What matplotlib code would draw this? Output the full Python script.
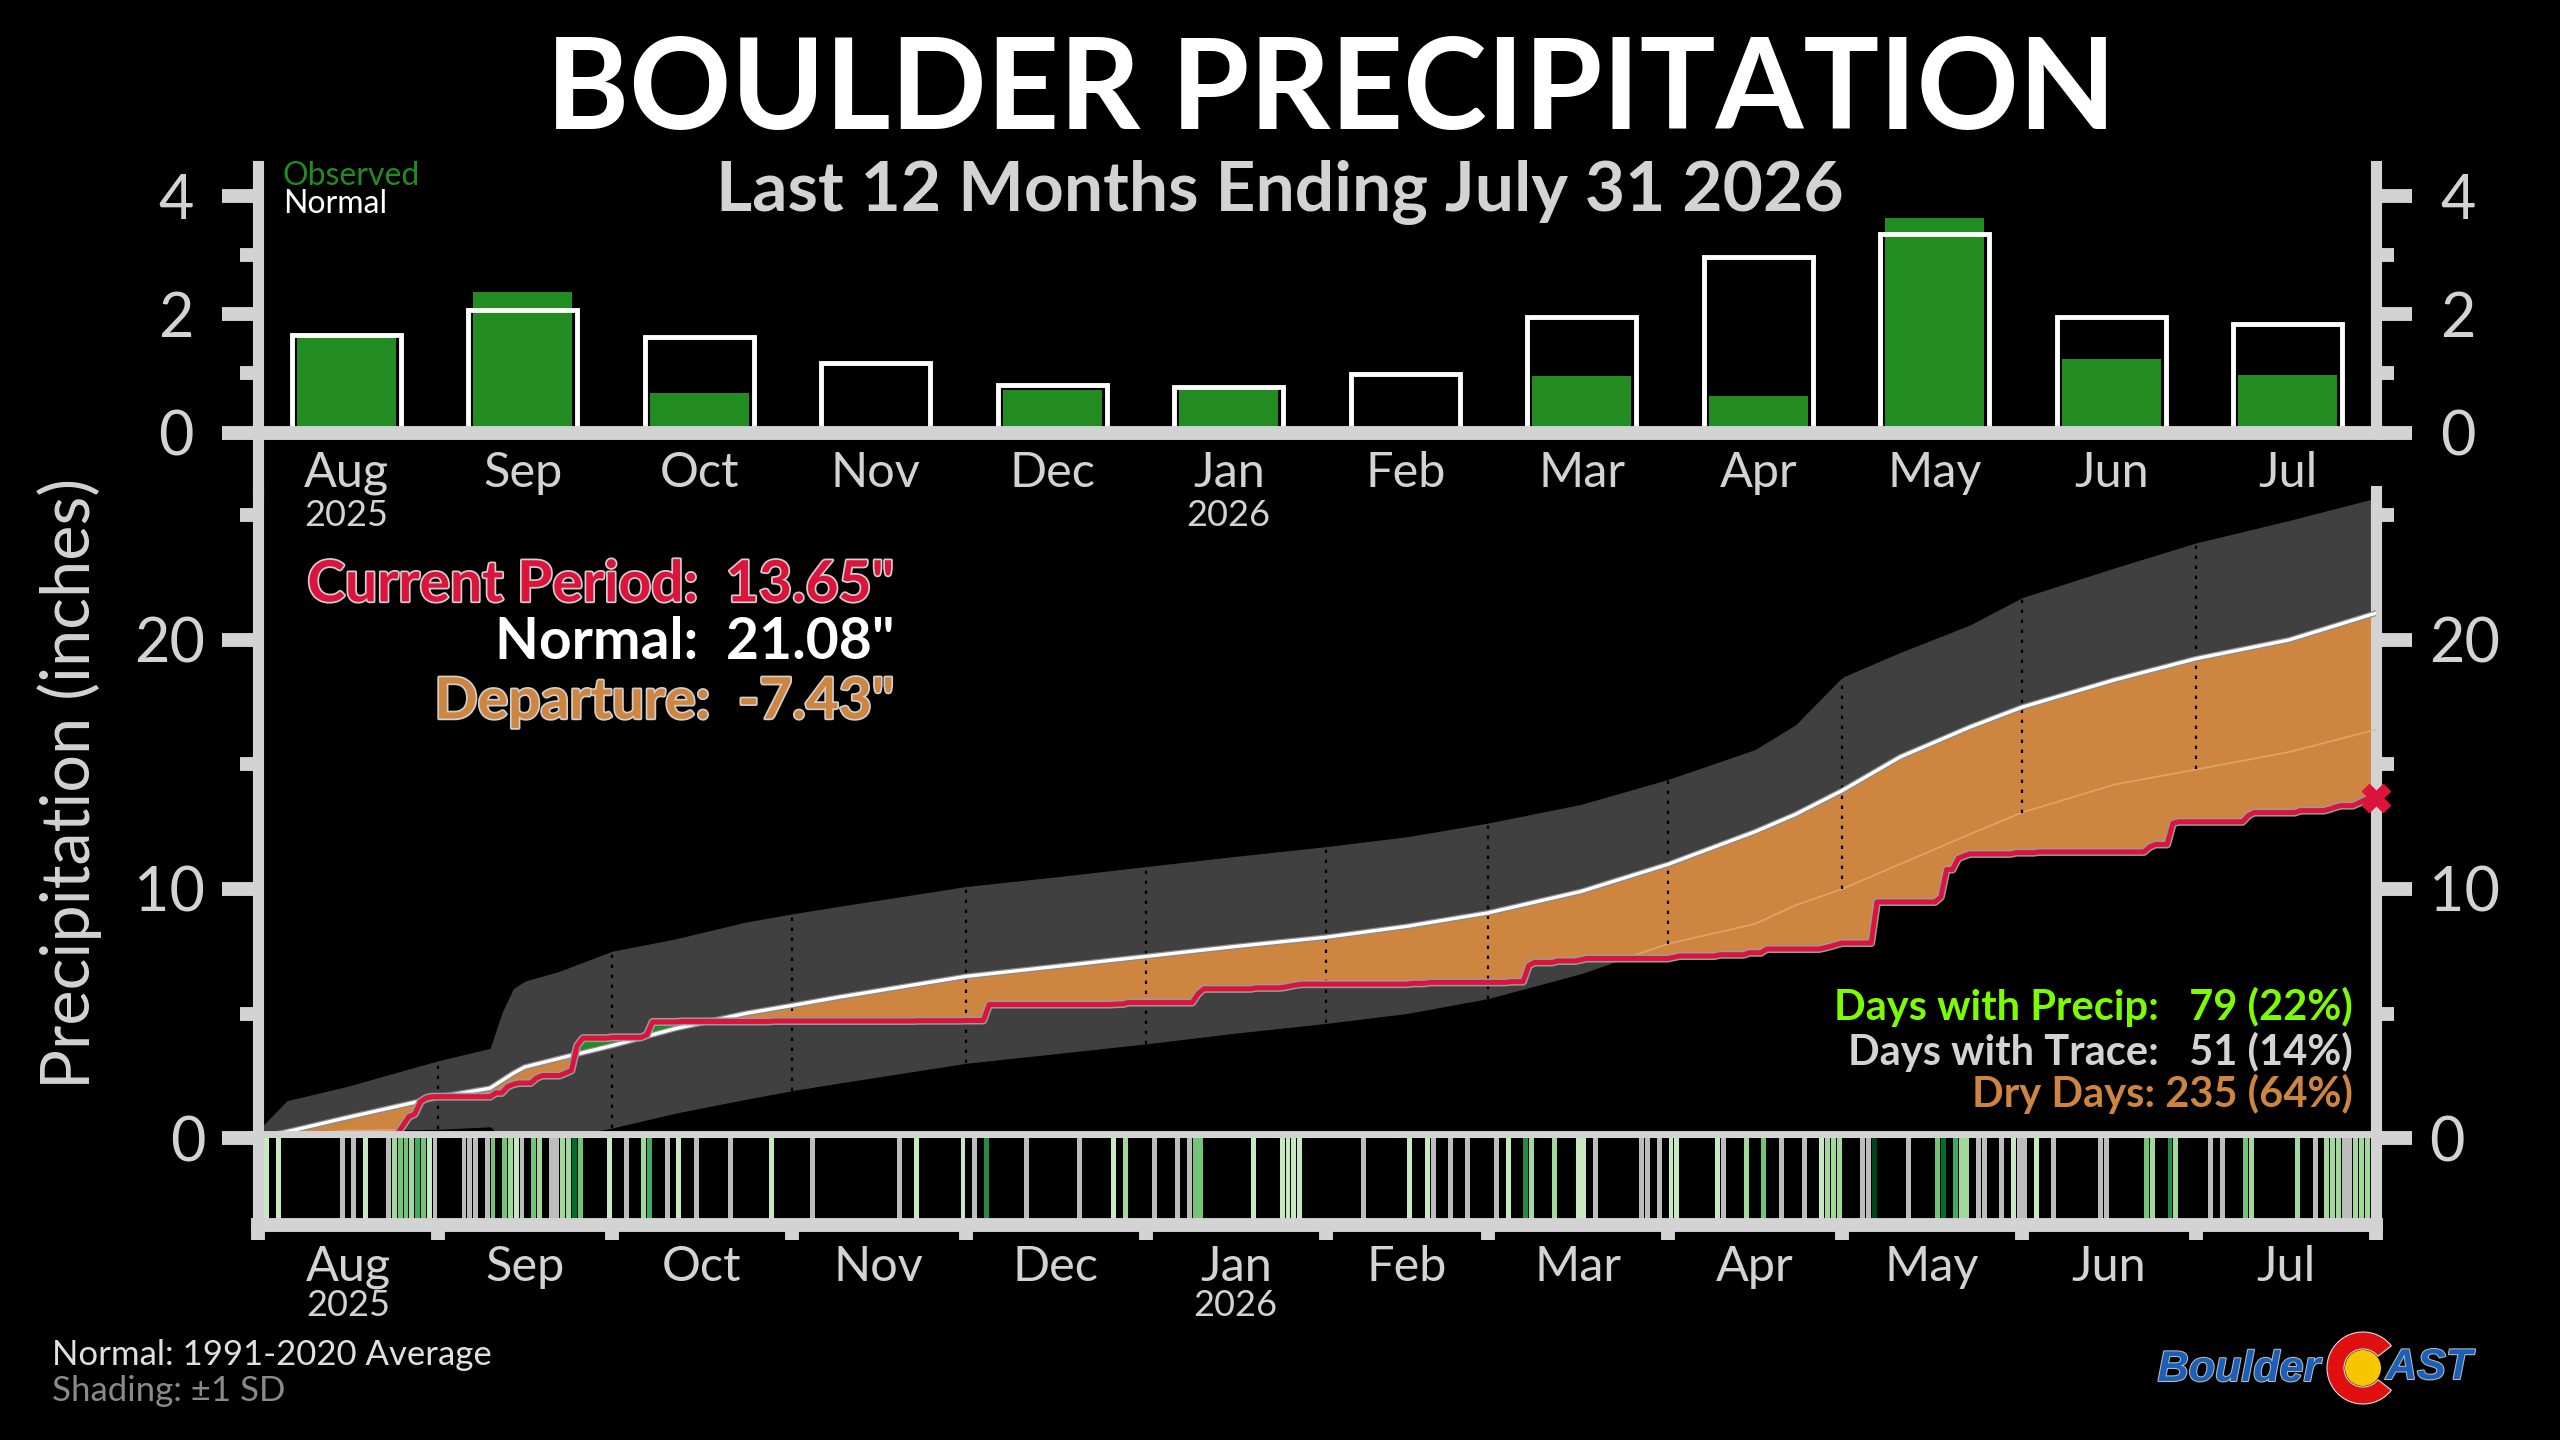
import numpy as np
import matplotlib
matplotlib.use('Agg')
import matplotlib.pyplot as plt
import matplotlib.patheffects as pe
import matplotlib.transforms as mtransforms
from matplotlib.patches import Polygon, Wedge, Circle
from matplotlib.colors import ListedColormap, BoundaryNorm

plt.rcParams['font.family'] = ['Lato', 'DejaVu Sans']

# ---------------- data ----------------
months = ['Aug', 'Sep', 'Oct', 'Nov', 'Dec', 'Jan', 'Feb', 'Mar', 'Apr', 'May', 'Jun', 'Jul']
month_start = [0, 31, 61, 92, 122, 153, 184, 212, 243, 273, 304, 334, 365]
normal_monthly = [1.64, 2.07, 1.61, 1.17, 0.80, 0.77, 0.98, 1.95, 2.96, 3.35, 1.95, 1.83]

# daily precipitation events (day index 0 = Aug 1 2025)
precip_day = [1, 3, 18, 23, 24, 25, 26, 27, 28, 29,
              40, 42, 43, 44, 47, 48, 52, 53, 54, 55, 60,
              66, 67, 72, 88,
              113, 121,
              125, 147, 149,
              161, 162, 171, 176, 177, 178, 179,
              198, 201,
              215, 218, 219, 223, 227, 228,
              243, 244, 251, 256, 259, 269, 270, 271, 272,
              278, 289, 290, 292, 293, 294, 302,
              306, 325, 326, 329, 330,
              342, 343, 351, 356, 357, 358, 361, 362, 363]
precip_amt = [0.02, 0.02, 0.02, 0.10, 0.35, 0.35, 0.10, 0.50, 0.15, 0.05,
              0.15, 0.25, 0.10, 0.05, 0.20, 0.10, 0.10, 0.10, 1.00, 0.30, 0.03,
              0.10, 0.52, 0.02, 0.02,
              0.01, 0.01,
              0.64, 0.02, 0.06,
              0.35, 0.20, 0.04, 0.03, 0.05, 0.04, 0.03,
              0.03, 0.04,
              0.03, 0.65, 0.12, 0.06, 0.05, 0.05,
              0.05, 0.05, 0.05, 0.08, 0.15, 0.05, 0.06, 0.07, 0.06,
              1.65, 0.20, 1.10, 0.45, 0.10, 0.08, 0.05,
              0.03, 0.20, 0.10, 0.85, 0.06,
              0.25, 0.12, 0.08, 0.06, 0.08, 0.06, 0.10, 0.12, 0.10]
trace_day = [14, 16, 22, 30, 35, 36, 37, 39, 45, 50, 51, 63, 70, 75, 81, 95, 110,
             123, 132, 141, 154, 158, 160, 190, 202, 205, 208, 213, 230, 238, 239, 241,
             252, 262, 266, 276, 277, 284, 296, 297, 300, 303, 304, 309, 317, 318,
             336, 338, 354, 359, 360]

# normal cumulative and +/- 1 SD envelope (read at nodes)
band_day = [0, 5, 15, 31, 40, 42, 44, 46, 52, 61, 72, 84, 92, 100, 122, 138, 153, 168, 184, 198,
            212, 228, 243, 258, 265, 273, 283, 295, 304, 320, 334, 350, 365]
normal_cum = [0, 0.25, 0.8, 1.64, 2.0, 2.3, 2.6, 2.85, 3.2, 3.71, 4.4, 5.0, 5.32, 5.65, 6.49, 6.9, 7.29, 7.68, 8.06, 8.5,
              9.04, 9.9, 10.99, 12.3, 13.0, 13.95, 15.3, 16.5, 17.30, 18.4, 19.25, 20.0, 21.08]
upper_sd = [0.3, 1.5, 2.05, 3.1, 3.6, 5.0, 6.0, 6.3, 6.7, 7.5, 8.0, 8.67, 9.0, 9.3, 10.1, 10.5, 10.9, 11.3, 11.7, 12.1,
            12.65, 13.4, 14.4, 15.6, 16.6, 18.5, 19.5, 20.6, 21.7, 22.9, 23.9, 24.8, 25.7]
lower_sd = [0, 0.05, 0.3, 0.35, 0.45, 0.05, 0.0, 0.0, 0.0, 0.4, 1.0, 1.55, 1.9, 2.2, 3.0, 3.4, 3.78, 4.2, 4.6, 5.0,
            5.6, 6.6, 7.8, 8.6, 9.35, 10.0, 11.0, 12.2, 13.07, 14.2, 14.8, 15.5, 16.4]

stat_lines = ['Days with Precip:   79 (22%)', 'Days with Trace:   51 (14%)', 'Dry Days: 235 (64%)']
summary_lines = ['Current Period:  13.65"', 'Normal:  21.08"', 'Departure:  -7.43"']

# ---------------- derived ----------------
ndays = 365
daily = np.zeros(ndays)
daily[precip_day] = precip_amt
x_obs = np.arange(0, ndays + 1)
obs = np.concatenate([[0.0], np.cumsum(daily)])
obs_monthly = [daily[month_start[i]:month_start[i + 1]].sum() for i in range(12)]

LG = '#d3d3d3'
ORANGE = '#CD853F'
RED = '#DC143C'
GREEN = '#228B22'
SPW = 8
BW = 10
MONTH_FS = 35
YEAR_FS = 26

fig = plt.figure(figsize=(25.6, 14.4), dpi=100, facecolor='black')

L, W = 258 / 2560, 2118 / 2560

# ---------------- top bar axes ----------------
ax_t = fig.add_axes([L, 1 - 432.5 / 1440, W, 266.4 / 1440])
ax_t.set_facecolor('none')
xm = np.arange(12)
ax_t.bar(xm, obs_monthly, width=0.56, color=GREEN, zorder=2)
ax_t.bar(xm, normal_monthly, width=0.62, facecolor='none', edgecolor='white', lw=3.5, zorder=3)
ax_t.set_xlim(-0.5, 11.5)
ax_t.set_ylim(0, 4.5)
ax_t.set_yticks([0, 2, 4])
ax_t.set_yticks([1, 3], minor=True)
ax_t.set_xticks(xm)
ax_t.set_xticklabels(months)
ax_t.tick_params(axis='x', length=0, pad=13, labelsize=MONTH_FS, labelcolor=LG)
ax_t.tick_params(axis='y', which='major', length=26, width=10, color=LG, labelcolor=LG,
                 labelsize=44, left=True, right=True, labelleft=True, labelright=True, pad=20)
ax_t.tick_params(axis='y', which='minor', length=13, width=10, color=LG, left=True, right=True)
for s in ['left', 'right']:
    ax_t.spines[s].set_color(LG)
    ax_t.spines[s].set_linewidth(SPW)
ax_t.spines['bottom'].set_color(LG)
ax_t.spines['bottom'].set_linewidth(BW)
ax_t.spines['bottom'].set_zorder(10)
ax_t.spines['top'].set_visible(False)

# ---------------- main cumulative axes ----------------
ax = fig.add_axes([L, 1 - 1138 / 1440, W, 26 * 24.9 / 1440])
ax.set_facecolor('none')
ax.set_xlim(0, 365)
ax.set_ylim(0, 26)
ax.fill_between(band_day, lower_sd, upper_sd, color='#404040', lw=0, zorder=1)

above_obs = Polygon(np.column_stack([np.r_[x_obs, 365, 0], np.r_[obs, 40, 40]]),
                    closed=True, transform=ax.transData)
below_obs = Polygon(np.column_stack([np.r_[x_obs, 365, 0], np.r_[obs, -5, -5]]),
                    closed=True, transform=ax.transData)
orange = ax.fill_between(band_day, -5, normal_cum, color=ORANGE, lw=0, zorder=2)
orange.set_clip_path(above_obs)
green = ax.fill_between(band_day, normal_cum, 40, color=GREEN, lw=0, zorder=2)
green.set_clip_path(below_obs)
lowline, = ax.plot(band_day, lower_sd, color='#e6b07a', lw=1.3, alpha=0.7, zorder=3)
lowline.set_clip_path(above_obs)

bd = np.array(band_day)
for m in month_start[1:-1]:
    i = int(np.where(bd == m)[0][0])
    ax.vlines(m, lower_sd[i], upper_sd[i], colors='black', linestyles=(0, (1.5, 3)), lw=1.6, zorder=4)

ax.plot(band_day, normal_cum, color='white', lw=2.4, zorder=5,
        path_effects=[pe.Stroke(linewidth=4.2, foreground='#8a8a8a'), pe.Normal()])
ax.plot(x_obs, obs, color=RED, lw=3.6, zorder=6,
        path_effects=[pe.Stroke(linewidth=5.8, foreground='#9a9a9a'), pe.Normal()])
ax.plot([365], [obs[-1]], marker='X', ms=20, color=RED, clip_on=False, zorder=7)

ax.set_yticks([0, 10, 20])
ax.set_yticks([5, 15, 25], minor=True)
ax.tick_params(axis='x', which='both', bottom=False, labelbottom=False)
ax.tick_params(axis='y', which='major', length=26, width=10, color=LG, labelcolor=LG,
               labelsize=44, left=True, right=True, labelleft=True, labelright=True, pad=12)
ax.tick_params(axis='y', which='minor', length=13, width=10, color=LG, left=True, right=True)
for s in ['left', 'right']:
    ax.spines[s].set_color(LG)
    ax.spines[s].set_linewidth(SPW)
ax.spines['bottom'].set_color(LG)
ax.spines['bottom'].set_linewidth(BW)
ax.spines['bottom'].set_zorder(10)
ax.spines['top'].set_visible(False)
ax.plot([0, 0], [0.99, 1.092], transform=ax.transAxes, clip_on=False, color=LG, lw=SPW,
        solid_capstyle='butt', zorder=10)

# year labels under the top bar chart (drawn on top of the main axes)
tr_t = mtransforms.blended_transform_factory(ax_t.transData, ax_t.transAxes)
for xi, yr in [(0, '2025'), (5, '2026')]:
    fig.text(0, 0, yr, transform=mtransforms.offset_copy(tr_t, fig=fig, x=0, y=0),
             ha='center', va='center', fontsize=YEAR_FS, color=LG, zorder=30).set_position((xi, -0.31))

# ---------------- daily strip ----------------
ax_s = fig.add_axes([L, 1 - 1224.5 / 1440, W, 87 / 1440])
ax_s.set_facecolor('black')
levels = [0, 0.06, 0.15, 0.4, 0.6, 0.9, 1.2, 10]
gcols = ['#c7e9c0', '#a1d99b', '#74c476', '#41ab5d', '#238b45', '#006d2c', '#00441b']
cmap = ListedColormap(gcols)
norm = BoundaryNorm(levels, cmap.N)
ax_s.bar(np.array(trace_day) + 0.5, 1, width=0.85, color='#bdbdbd', lw=0)
ax_s.bar(np.array(precip_day) + 0.5, 1, width=0.85, color=cmap(norm(precip_amt)), lw=0)
ax_s.set_xlim(0, 365)
ax_s.set_ylim(0, 1)
ax_s.set_yticks([])
ax_s.set_xticks(month_start)
ax_s.set_xticklabels([])
mid = [(month_start[i] + month_start[i + 1]) / 2 for i in range(12)]
ax_s.set_xticks(mid, minor=True)
ax_s.set_xticklabels(months, minor=True)
ax_s.tick_params(axis='x', which='major', length=11, width=10, color=LG, direction='out')
ax_s.tick_params(axis='x', which='minor', length=0, pad=15, labelsize=MONTH_FS, labelcolor=LG)
for s in ['left', 'right']:
    ax_s.spines[s].set_color(LG)
    ax_s.spines[s].set_linewidth(SPW)
ax_s.spines['bottom'].set_color(LG)
ax_s.spines['bottom'].set_linewidth(BW)
ax_s.spines['top'].set_visible(False)
tr_s = mtransforms.blended_transform_factory(ax_s.transData, ax_s.transAxes)
ax_s.text(mid[0], -0.93, '2025', transform=tr_s, ha='center', va='center', fontsize=YEAR_FS, color=LG)
ax_s.text(mid[5], -0.93, '2026', transform=tr_s, ha='center', va='center', fontsize=YEAR_FS, color=LG)

# ---------------- texts ----------------
fig.text(0.52, 0.936, 'BOULDER PRECIPITATION', ha='center', va='center', fontsize=91,
         fontweight='bold', color='white')
fig.text(0.5, 0.866, 'Last 12 Months Ending July 31 2026', ha='center', va='center', fontsize=50,
         fontweight='bold', color=LG)
fig.text(0.1105, 0.878, 'Observed', color=GREEN, fontsize=23, va='center', ha='left')
fig.text(0.1105, 0.858, 'Normal', color='white', fontsize=23, va='center', ha='left')
fig.text(0.027, 0.456, 'Precipitation (inches)', rotation=90, ha='center', va='center',
         fontsize=48, color=LG)

stroke = [pe.withStroke(linewidth=2.5, foreground='#cfcfcf')]
sum_cols = [RED, 'white', ORANGE]
sum_y = [0.5938, 0.5535, 0.5125]
for t, c, yy in zip(summary_lines, sum_cols, sum_y):
    fig.text(0.3496, yy, t, ha='right', va='center', fontsize=41, fontweight='bold', color=c,
             path_effects=stroke if c != 'white' else None, zorder=20)

stat_cols = ['#7CFC00', LG, ORANGE]
stat_y = [0.3007, 0.2697, 0.2403]
for t, c, yy in zip(stat_lines, stat_cols, stat_y):
    fig.text(0.9191, yy, t, ha='right', va='center', fontsize=30, fontweight='bold', color=c, zorder=20)

fig.text(0.0204, 0.059, 'Normal: 1991-2020 Average', ha='left', va='center', fontsize=25, color='#e0e0e0')
fig.text(0.0204, 0.034, 'Shading: \u00b11 SD', ha='left', va='center', fontsize=25, color='#8a8a8a')

# ---------------- logo ----------------
ax_l = fig.add_axes([2140 / 2560, 20 / 1440, 350 / 2560, 100 / 1440])
ax_l.set_xlim(0, 350)
ax_l.set_ylim(0, 100)
ax_l.axis('off')
ax_l.add_patch(Wedge((223, 52), 36, 38, 322, width=17, facecolor='#e01010', edgecolor='#dddddd', lw=0.8))
ax_l.add_patch(Circle((223, 52), 18, facecolor='#f7c600', edgecolor='none'))
logo_stroke = [pe.withStroke(linewidth=1.5, foreground='#bbbbbb')]
ax_l.text(180, 50, 'Boulder', ha='right', va='center', fontsize=31, fontweight='bold', style='italic',
          color='#1a5fb8', family=['Liberation Sans', 'DejaVu Sans'], path_effects=logo_stroke)
ax_l.text(246, 52, 'AST', ha='left', va='center', fontsize=31, fontweight='bold', style='italic',
          color='#1a5fb8', family=['Liberation Sans', 'DejaVu Sans'], path_effects=logo_stroke)

fig.savefig('out.png', dpi=100, facecolor='black')
